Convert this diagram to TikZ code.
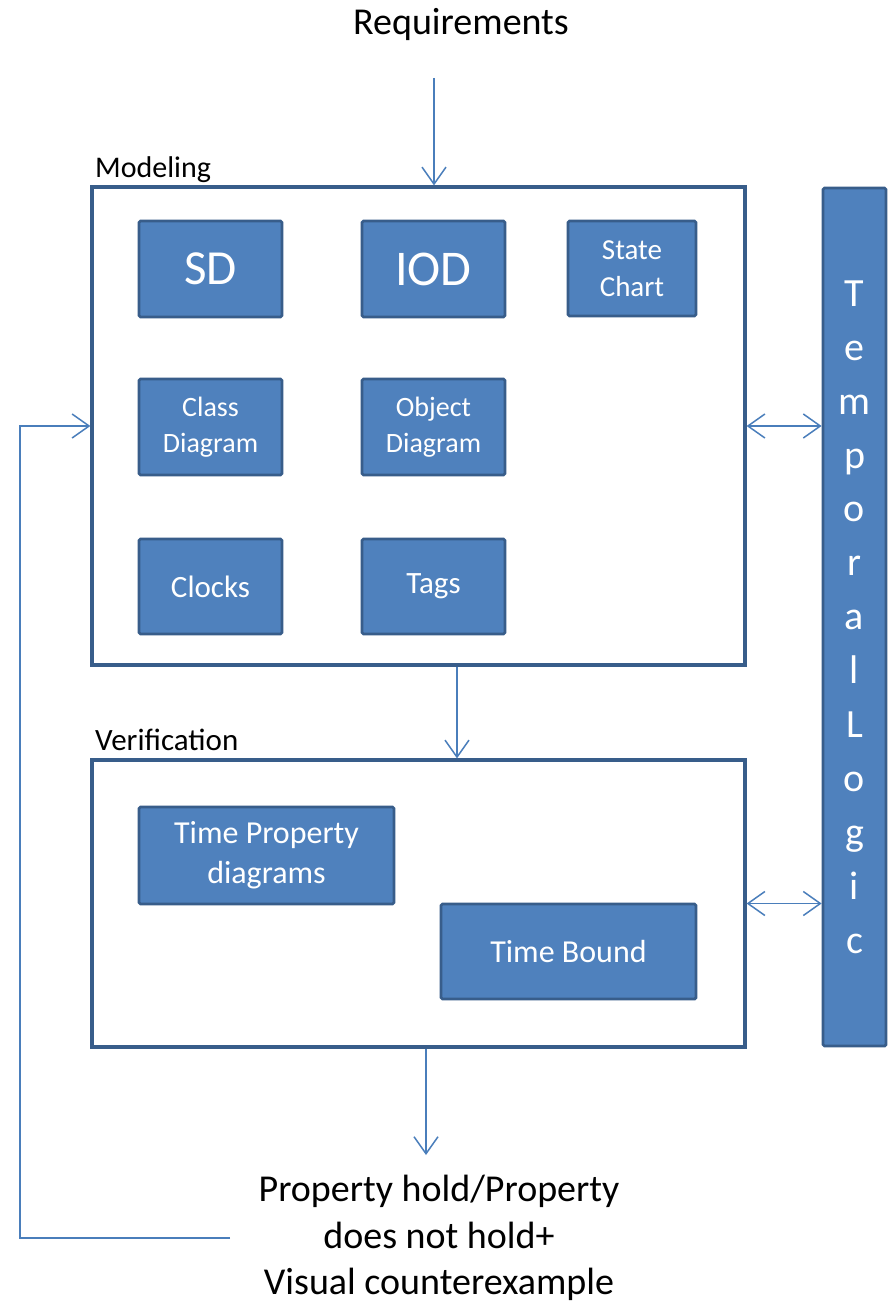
\documentclass[tikz,border=0pt]{standalone}
\usepackage{fontspec}
\setmainfont{Carlito}
\usetikzlibrary{arrows.meta}
\definecolor{fillblue}{HTML}{4F81BD}
\definecolor{edgeblue}{HTML}{385D8A}
\definecolor{linkblue}{HTML}{4A7EBB}
\newcommand{\fs}[2]{\fontsize{#1}{#2}\selectfont}

\begin{document}
\begin{tikzpicture}[x=1pt,y=-1pt,
  panel/.style={draw=edgeblue, line width=3.2pt, fill=white, inner sep=0pt},
  comp/.style={draw=edgeblue, line width=2.8pt, fill=fillblue, text=white,
    align=center, inner sep=0pt, rounded corners=1.5pt},
  caption/.style={inner sep=0pt, text=black},
  link/.style={draw=linkblue, line width=1.5pt},
  tip/.style={-{Straight Barb[length=17pt,width=24pt,line width=1.5pt]}},
  bitip/.style={{Straight Barb[length=17pt,width=24pt,line width=1.5pt]}-{Straight Barb[length=17pt,width=24pt,line width=1.5pt]}}
]
\useasboundingbox (0,0) rectangle (889,1303);

% title and input
\node[caption, anchor=base, font=\fs{38}{46}] (req) at (461,35) {Requirements};
\coordinate (reqfoot) at (434,78);

% modeling panel
\node[panel, minimum width=653pt, minimum height=478pt] (model) at (418.5,426) {};
\node[caption, anchor=base west, font=\fs{30}{36}] (modlabel) at (95,177) {Modeling};

\node[comp, minimum width=143pt, minimum height=96pt, font=\fs{49}{56}] (sd) at (210.5,269) {SD};
\node[comp, minimum width=143pt, minimum height=96pt, font=\fs{50}{56}] (iod) at (433.5,269) {IOD};
\node[comp, minimum width=128pt, minimum height=95pt, font=\fs{29}{37}] (state) at (632,268.5) {State\\Chart};
\node[comp, minimum width=143pt, minimum height=96pt, font=\fs{28}{36}] (class) at (210.5,427) {Class\\Diagram};
\node[comp, minimum width=143pt, minimum height=96pt, font=\fs{28}{36}] (object) at (433.5,427) {Object\\Diagram};
\node[comp, minimum width=143pt, minimum height=95pt, font=\fs{31}{37}] (clocks) at (210.5,586.5) {Clocks};
\node[comp, minimum width=143pt, minimum height=95pt, font=\fs{31}{37}] (tags) at (433.5,586.5) {Tags};

% verification panel
\node[panel, minimum width=653pt, minimum height=287pt] (verif) at (418.5,903.5) {};
\node[caption, anchor=base west, font=\fs{31}{36}] (verlabel) at (95,750) {Verification};

\node[comp, minimum width=255pt, minimum height=97pt, font=\fs{32}{40}] (tpd) at (266.5,855.5) {Time Property\\diagrams};
\node[comp, minimum width=255pt, minimum height=95pt, font=\fs{32}{40}] (tb) at (568.5,951.5) {Time Bound};

% temporal logic bar
\node[comp, minimum width=63pt, minimum height=858pt, font=\fs{40}{53.9}] (tl) at (854.5,617)
  {T\\e\\m\\p\\o\\r\\a\\l\\L\\o\\g\\i\\c};

% result text
\node[caption, align=center, font=\fs{38}{46.5}] (result) at (439,1238)
  {Property hold/Property\\does not hold+\\Visual counterexample};
\coordinate (resfoot) at (426,1155);
\coordinate (fbstart) at (230,1238);
\coordinate (fbcorner) at (20,1238);

% connectors
\draw[link, tip] (reqfoot) -- (reqfoot |- model.north);
\draw[link, tip] (457,0 |- model.south) -- (457,0 |- verif.north);
\draw[link, tip] (resfoot |- verif.south) -- (resfoot);
\draw[link, bitip] (model.east) -- (model.east -| tl.west);
\draw[link, bitip] (verif.east) -- (verif.east -| tl.west);
\draw[link, tip] (fbstart) -- (fbcorner) -- (fbcorner |- model.west) -- (model.west);
\end{tikzpicture}
\end{document}
